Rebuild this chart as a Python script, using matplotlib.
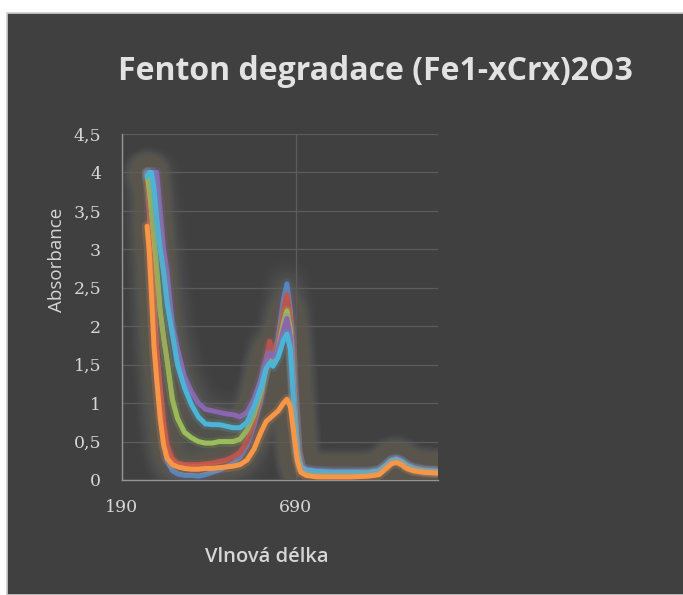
import matplotlib
matplotlib.use("Agg")
import matplotlib.pyplot as plt
import matplotlib.patheffects as pe
from matplotlib.patches import Rectangle
from matplotlib.ticker import FuncFormatter

# ── Spectra (wavelength in nm, absorbance) ──────────────────────────────────
wavelength = [262, 268, 275, 282, 290, 300, 310, 320, 335, 350, 370, 390, 410,
              430, 450, 470, 490, 510, 530, 550, 570, 590, 605, 615, 625, 640,
              655, 665, 675, 685, 695, 705, 720, 750, 800, 850, 900, 930, 950,
              965, 980, 995, 1010, 1030, 1060, 1100]

abs_blue = [4.0, 3.7, 3.0, 2.3, 1.6, 1.0, 0.55, 0.25, 0.12, 0.08, 0.06, 0.06,
            0.05, 0.07, 0.1, 0.13, 0.17, 0.22, 0.3, 0.45, 0.7, 1.05, 1.5, 1.72,
            1.6, 1.85, 2.35, 2.55, 2.2, 1.25, 0.4, 0.18, 0.12, 0.1, 0.09, 0.09,
            0.09, 0.11, 0.18, 0.24, 0.26, 0.23, 0.18, 0.14, 0.12, 0.11]

abs_red = [4.0, 3.6, 2.9, 2.2, 1.7, 1.2, 0.75, 0.45, 0.28, 0.22, 0.2, 0.2,
           0.2, 0.21, 0.22, 0.24, 0.26, 0.3, 0.36, 0.5, 0.75, 1.1, 1.55, 1.8,
           1.65, 1.8, 2.2, 2.4, 2.1, 1.2, 0.4, 0.15, 0.1, 0.08, 0.07, 0.07,
           0.08, 0.1, 0.17, 0.23, 0.25, 0.22, 0.17, 0.13, 0.11, 0.1]

abs_green = [4.0, 3.8, 3.5, 3.15, 2.75, 2.2, 1.85, 1.55, 1.05, 0.8, 0.62, 0.55,
             0.5, 0.48, 0.48, 0.5, 0.5, 0.5, 0.53, 0.65, 0.85, 1.15, 1.45, 1.62,
             1.55, 1.7, 2.05, 2.2, 1.95, 1.1, 0.38, 0.15, 0.1, 0.09, 0.08, 0.08,
             0.09, 0.11, 0.18, 0.24, 0.26, 0.23, 0.18, 0.14, 0.12, 0.11]

abs_purple = [4.0, 4.0, 4.0, 4.0, 4.0, 3.5, 3.0, 2.7, 2.0, 1.7, 1.35, 1.15,
              1.0, 0.92, 0.9, 0.88, 0.86, 0.85, 0.82, 0.88, 1.05, 1.3, 1.55, 1.65,
              1.6, 1.7, 1.95, 2.1, 1.85, 1.05, 0.38, 0.18, 0.14, 0.12, 0.11, 0.11,
              0.11, 0.13, 0.2, 0.26, 0.28, 0.25, 0.2, 0.16, 0.13, 0.12]

abs_aqua = [3.95, 4.0, 4.0, 3.8, 3.4, 3.0, 2.7, 2.3, 1.9, 1.5, 1.2, 0.98,
            0.82, 0.73, 0.72, 0.72, 0.7, 0.68, 0.68, 0.75, 0.95, 1.2, 1.45, 1.52,
            1.48, 1.6, 1.82, 1.9, 1.7, 0.95, 0.35, 0.17, 0.13, 0.11, 0.1, 0.1,
            0.1, 0.12, 0.19, 0.25, 0.27, 0.24, 0.19, 0.15, 0.12, 0.11]

abs_orange = [3.3, 3.0, 2.4, 1.75, 1.3, 0.8, 0.45, 0.28, 0.2, 0.17, 0.15, 0.14,
              0.14, 0.15, 0.15, 0.16, 0.17, 0.18, 0.2, 0.26, 0.4, 0.62, 0.76, 0.8,
              0.84, 0.9, 1.0, 1.05, 0.95, 0.6, 0.25, 0.1, 0.06, 0.04, 0.04, 0.04,
              0.05, 0.07, 0.15, 0.21, 0.23, 0.2, 0.15, 0.12, 0.1, 0.09]

series = [
    (abs_blue,   "#4f86c6"),
    (abs_red,    "#c9504d"),
    (abs_green,  "#9bc25a"),
    (abs_purple, "#8a66b4"),
    (abs_aqua,   "#4cb4d6"),
    (abs_orange, "#f79646"),
]

BG = "#404040"
TXT = "#d6d6d6"

fig = plt.figure(figsize=(6.83, 5.95), dpi=100, facecolor="white")

# dark chart panel with a thin light frame
fig.patches.append(Rectangle((7 / 683, 0), 1, 1 - 13 / 595,
                             transform=fig.transFigure, facecolor=BG,
                             edgecolor="#cfcfcf", linewidth=1.2, zorder=-5))

ax = fig.add_axes([122 / 683, 115 / 595, 316 / 683, 346 / 595])
ax.set_facecolor("none")

# soft halo: many wide, faint strokes under each line
glow = "#aeaaa2"
halo = [pe.Stroke(linewidth=w, foreground=glow, alpha=0.013)
        for w in range(36, 8, -3)]
for values, color in series:
    ax.plot(wavelength, values, color=color, linewidth=3.6,
            solid_joinstyle="round", solid_capstyle="round", zorder=3,
            path_effects=halo + [
                pe.Stroke(linewidth=7.5, foreground=color, alpha=0.18),
                pe.Normal(),
            ])

ax.set_xlim(190, 1100)
ax.set_ylim(0, 4.5)
ax.set_xticks([190, 690])
ax.set_yticks([i * 0.5 for i in range(10)])
ax.yaxis.set_major_formatter(
    FuncFormatter(lambda v, _: f"{v:g}".replace(".", ",")))

ax.grid(True, color="#5c5c5c", linewidth=0.9)
ax.set_axisbelow(True)
for side in ("top", "right"):
    ax.spines[side].set_visible(False)
for side in ("left", "bottom"):
    ax.spines[side].set_color("#959595")
    ax.spines[side].set_linewidth(1.0)

ax.tick_params(length=0, colors=TXT, labelsize=12.5)
ax.tick_params(axis="y", pad=15)
ax.tick_params(axis="x", pad=14)
for lab in ax.get_xticklabels() + ax.get_yticklabels():
    lab.set_fontfamily("DejaVu Serif")

fig.text(375 / 683, 1 - 72 / 595, "Fenton degradace (Fe1-xCrx)2O3",
         ha="center", va="center", fontsize=23, fontweight="bold",
         family="Open Sans", color="#e2e2e2")
fig.text(57 / 683, 1 - 260 / 595, "Absorbance", rotation=90,
         ha="center", va="center", fontsize=13.5, family="Open Sans",
         color=TXT)
fig.text(267 / 683, 1 - 557 / 595, "Vlnová délka",
         ha="center", va="center", fontsize=14.5, family="Open Sans",
         fontweight="semibold", color=TXT)

fig.savefig("out.png", dpi=100, facecolor=fig.get_facecolor())
